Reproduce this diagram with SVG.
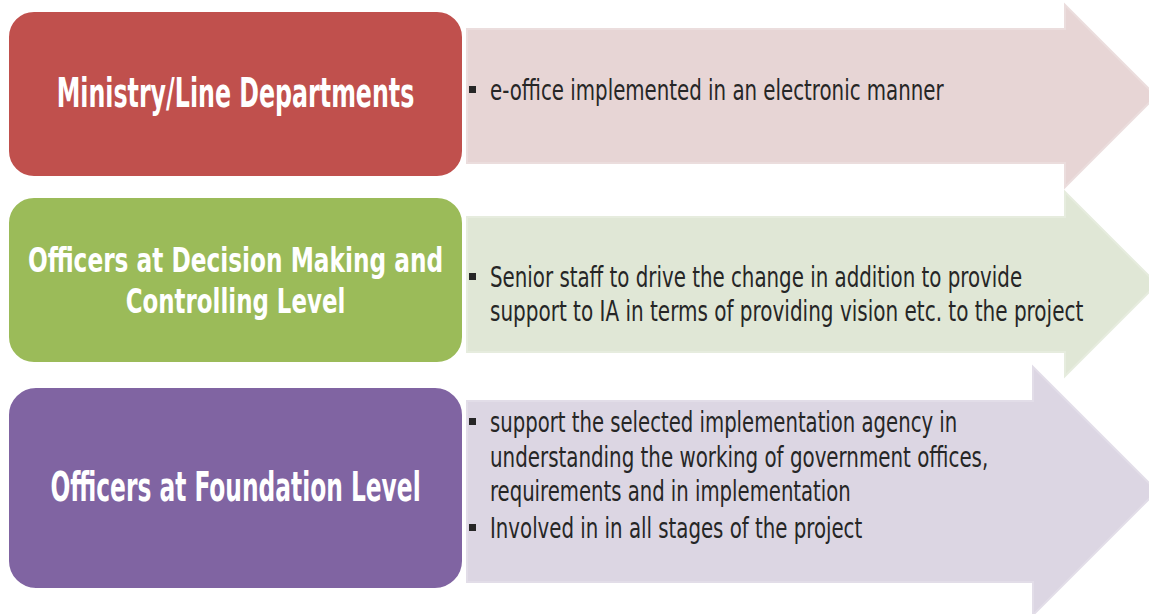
<svg xmlns="http://www.w3.org/2000/svg" width="1149" height="614" viewBox="0 0 1149 614">
  <style>
    .box { stroke: #ffffff; stroke-width: 2; }
    .title { font-family: "DejaVu Sans Condensed", "DejaVu Sans", sans-serif; font-weight: bold; font-size: 40px; fill: #ffffff; text-anchor: middle; }
    .title2 { font-size: 34px; }
    .item { font-family: "DejaVu Sans Condensed", "DejaVu Sans", sans-serif; font-size: 29px; fill: #262626; }
    .bullet { fill: #262626; }
    .arrow { stroke-width: 2; }
  </style>
  <rect width="1149" height="614" fill="#ffffff"/>

  <g id="arrow-ministry">
    <polygon class="arrow" points="467,29 1065,29 1065,5 1156,96 1065,187 1065,163 467,163" fill="#E7D5D5" stroke="#EBDDDD"/>
    <rect class="bullet" x="469" y="86" width="7" height="7"/>
    <text class="item" transform="translate(490,100) scale(0.72,1)" textLength="630" lengthAdjust="spacingAndGlyphs">e-office implemented in an electronic manner</text>
  </g>

  <g id="arrow-decision">
    <polygon class="arrow" points="467,217 1065,217 1065,192 1157,284 1065,376 1065,352 467,352" fill="#E0E7D6" stroke="#E6ECDE"/>
    <rect class="bullet" x="469" y="273" width="7" height="7"/>
    <text class="item" transform="translate(490,287) scale(0.72,1)" textLength="739" lengthAdjust="spacingAndGlyphs">Senior staff to drive the change in addition to provide</text>
    <text class="item" transform="translate(490,321) scale(0.72,1)" textLength="824" lengthAdjust="spacingAndGlyphs">support to IA in terms of providing vision etc. to the project</text>
  </g>

  <g id="arrow-foundation">
    <polygon class="arrow" points="467,401 1033,401 1033,367 1157,491 1033,615 1033,582 467,582" fill="#DCD6E3" stroke="#E2DDE8"/>
    <rect class="bullet" x="469" y="418" width="7" height="7"/>
    <text class="item" transform="translate(490,432) scale(0.72,1)" textLength="649" lengthAdjust="spacingAndGlyphs">support the selected implementation agency in</text>
    <text class="item" transform="translate(490,467) scale(0.72,1)" textLength="692" lengthAdjust="spacingAndGlyphs">understanding the working of government offices,</text>
    <text class="item" transform="translate(490,501) scale(0.72,1)" textLength="501" lengthAdjust="spacingAndGlyphs">requirements and in implementation</text>
    <rect class="bullet" x="469" y="524" width="7" height="7"/>
    <text class="item" transform="translate(490,538) scale(0.72,1)" textLength="517" lengthAdjust="spacingAndGlyphs">Involved in in all stages of the project</text>
  </g>

  <g id="node-ministry">
    <rect class="box" x="8" y="11" width="455" height="166" rx="26" ry="26" fill="#C0504D"/>
    <text class="title" transform="translate(235.5,107) scale(0.66,1)" textLength="542" lengthAdjust="spacingAndGlyphs">Ministry/Line Departments</text>
  </g>

  <g id="node-decision">
    <rect class="box" x="8" y="197" width="455" height="166" rx="26" ry="26" fill="#9BBB59"/>
    <text class="title title2" transform="translate(235.5,272) scale(0.776,1)" textLength="535" lengthAdjust="spacingAndGlyphs">Officers at Decision Making and</text>
    <text class="title title2" transform="translate(235.5,313) scale(0.776,1)" textLength="283" lengthAdjust="spacingAndGlyphs">Controlling Level</text>
  </g>

  <g id="node-foundation">
    <rect class="box" x="8" y="387" width="455" height="202" rx="28" ry="28" fill="#8064A2"/>
    <text class="title" transform="translate(235.5,501) scale(0.66,1)" textLength="561" lengthAdjust="spacingAndGlyphs">Officers at Foundation Level</text>
  </g>

  <g id="connectors"/>
</svg>
